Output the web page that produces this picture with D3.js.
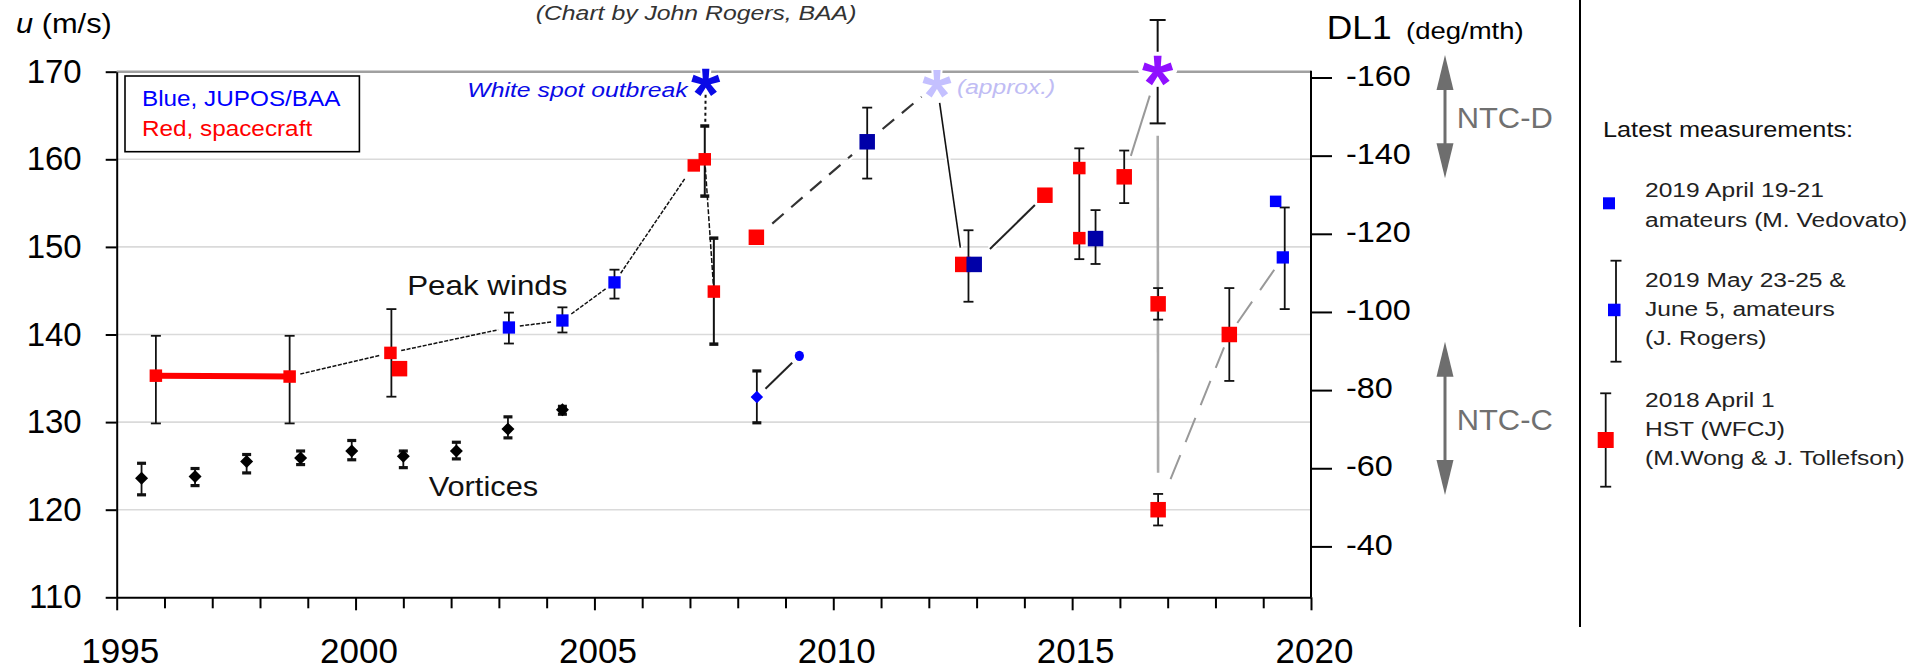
<!DOCTYPE html>
<html><head><meta charset="utf-8">
<script src="https://cdn.jsdelivr.net/npm/d3@7"></script>
<style>
html,body{margin:0;padding:0;background:#fff;}
svg{display:block;font-family:"Liberation Sans",Arial,Helvetica,sans-serif;}
</style></head><body>
<svg id="chart" width="1915" height="670"></svg>
<script>
// ---------------- DATA ----------------
const yearTicks = [1995, 2000, 2005, 2010, 2015, 2020];
const minorYears = [1996,1997,1998,1999,2001,2002,2003,2004,2006,2007,2008,2009,2011,2012,2013,2014,2016,2017,2018,2019];
const uTicks = [110, 120, 130, 140, 150, 160, 170];
const uGrid = [120, 130, 140, 150, 160];
const dlTicks = [-160, -140, -120, -100, -80, -60, -40];

// Vortices (black diamonds)
const vortexYear = [1995.52, 1996.64, 1997.72, 1998.85, 1999.92, 2001.0, 2002.11, 2003.19, 2004.33];
const vortexU    = [123.6, 123.8, 125.5, 125.9, 126.7, 126.1, 126.7, 129.2, 131.4];
const vortexLow  = [121.7, 122.75, 124.2, 125.15, 125.7, 124.8, 125.8, 128.2, 130.9];
const vortexHigh = [125.3, 124.7, 126.3, 126.7, 127.9, 126.7, 127.7, 130.6, 131.8];

// Later vortex-type points (blue)
const blueVortexYear = [2008.40];
const blueVortexU = [132.86];
const blueVortexLow = [129.92];
const blueVortexHigh = [135.84];
const blueDotYear = [2009.29];
const blueDotU = [137.56];

// Peak winds: spacecraft (red)
const redSmallYear = [1995.82, 1998.62, 2000.73, 2007.08, 2007.31, 2007.50, 2015.15, 2015.15];
const redSmallU    = [135.3, 135.2, 137.9, 159.3, 160.0, 144.9, 159.0, 151.0];
const redLargeYear = [2000.92, 2008.39, 2012.71, 2014.43, 2016.09, 2016.80, 2016.80, 2018.29];
const redLargeU    = [136.1, 151.1, 148.0, 155.9, 158.0, 143.5, 120.0, 140.0];
// Peak winds: JUPOS/BAA (blue)
const blueYear = [2003.21, 2004.33, 2005.42, 2019.41];
const blueU    = [140.8, 141.6, 145.95, 148.8];
const blueLatestYear = [2019.26];
const blueLatestU = [155.2];
const navyYear = [2010.71, 2012.95, 2015.49];
const navyU    = [162.0, 148.0, 150.95];

// Error bars (thin caps)
const errYear = [1995.82, 1998.62, 2000.75, 2003.21, 2004.33, 2005.42, 2010.71, 2012.83, 2015.15, 2015.49, 2016.09, 2016.80, 2016.80, 2018.29, 2019.45];
const errLow  = [129.85, 129.85, 132.9, 138.97, 140.23, 144.1, 157.8, 143.74, 148.6, 148.05, 155.0, 141.7, 118.2, 134.7, 142.9];
const errHigh = [139.85, 139.85, 142.9, 142.5, 143.1, 147.4, 165.9, 151.9, 161.25, 154.2, 161.0, 145.3, 121.8, 145.3, 154.5];
// Error bars (thick caps)
const errThickYear = [2007.31, 2007.50];
const errThickLow  = [155.8, 138.9];
const errThickHigh = [163.8, 151.0];

// White-spot outbreaks (stars)
const starYear = [2007.33, 2012.17, 2016.79];
const starU    = [168.75, 168.6, 170.1];
const starErrLow = [164.1];
const starErrHigh = [175.9];

// Connecting lines
const craftBarYear = [1995.82, 1998.62];
const craftBarU = [135.3, 135.2];
const trendYear = [1998.62, 2000.73, 2003.21, 2004.33, 2005.42, 2007.08];
const trendU    = [135.2, 137.9, 140.8, 141.6, 145.95, 159.3];
const drop2007Year = [2007.31, 2007.50];
const drop2007U = [160.0, 144.9];
const outbreakLinkYear = [2007.33, 2007.32];
const outbreakLinkU = [168.75, 163.8];
const rise2008Year = [2008.39, 2010.71, 2012.17];
const rise2008U = [151.1, 162.0, 168.6];
const fall2012Year = [2012.17, 2012.71];
const fall2012U = [168.6, 148.0];
const rise2013Year = [2012.95, 2014.43];
const rise2013U = [148.0, 155.9];
const rise2016Year = [2016.09, 2016.79];
const rise2016U = [158.0, 170.1];
const split2016Year = [2016.79, 2016.80];
const split2016U = [170.1, 120.0];
const rise2017Year = [2016.80, 2018.29, 2019.41];
const rise2017U = [120.0, 140.0, 148.8];
const blueLinkYear = [2008.40, 2009.29];
const blueLinkU = [132.86, 137.56];

// ---------------- SCALES ----------------
const x = d3.scaleLinear().domain([1995, 2020]).range([116.7, 1311]);
const y = d3.scaleLinear().domain([110, 170]).range([597.3, 71.7]);
const yR = d3.scaleLinear().domain([-160, -40]).range([77.5, 546.4]);
const svg = d3.select('#chart');
const zip = (a, b) => a.map((v, i) => [v, b[i]]);

const RED = '#ff0000', BLUE = '#0000ff', NAVY = '#0000a8', GRAY = '#999999';

function txt(g, px, py, s, o) {
  const t = g.append('text')
    .attr('transform', `translate(${px},${py}) scale(${o.sx || 1},1)`)
    .attr('font-size', o.size)
    .attr('fill', o.fill || '#111')
    .attr('text-anchor', o.anchor || 'start')
    .text(s);
  if (o.italic) t.attr('font-style', 'italic');
  return t;
}

// ---------------- GRID ----------------
svg.append('g').selectAll('line').data(uGrid).join('line')
  .attr('x1', x(1995)).attr('x2', x(2020))
  .attr('y1', d => y(d)).attr('y2', d => y(d))
  .attr('stroke', '#dadada').attr('stroke-width', 1.6);
svg.append('line').attr('x1', x(1995)).attr('x2', x(2020))
  .attr('y1', y(170)).attr('y2', y(170))
  .attr('stroke', '#a0a0a0').attr('stroke-width', 2.6);

// ---------------- AXES ----------------
const gL = svg.append('g').attr('transform', `translate(${x(1995)},0)`)
  .call(d3.axisLeft(y).tickValues(uTicks).tickSize(11).tickSizeOuter(0).tickPadding(24).tickFormat(d => String(d)));
gL.selectAll('path,line').attr('stroke', '#000').attr('stroke-width', 2);
gL.selectAll('text').attr('font-size', 33).attr('fill', '#000').attr('font-family', null);

const gB = svg.append('g').attr('transform', `translate(0,${y(110)})`)
  .call(d3.axisBottom(x).tickValues(yearTicks).tickSize(13).tickSizeOuter(0).tickPadding(28).tickFormat(d => String(d)));
gB.selectAll('path,line').attr('stroke', '#000').attr('stroke-width', 2);
gB.selectAll('text').attr('font-size', 35).attr('fill', '#000').attr('font-family', null).attr('dx', 3);
const gBm = svg.append('g').attr('transform', `translate(0,${y(110)})`)
  .call(d3.axisBottom(x).tickValues(minorYears).tickSize(11).tickFormat(''));
gBm.select('.domain').remove();
gBm.selectAll('line').attr('stroke', '#000').attr('stroke-width', 2);

svg.append('line').attr('x1', x(2020)).attr('x2', x(2020))
  .attr('y1', y(170) - 1).attr('y2', y(110))
  .attr('stroke', '#000').attr('stroke-width', 2);
const gR = svg.append('g').attr('transform', `translate(${x(2020)},0)`)
  .call(d3.axisRight(yR).tickValues(dlTicks).tickSize(21).tickPadding(14).tickFormat(d => String(d)));
gR.select('.domain').remove();
gR.selectAll('line').attr('stroke', '#000').attr('stroke-width', 2);
gR.selectAll('text').attr('font-size', 30).attr('fill', '#000').attr('font-family', null)
  .attr('transform', function () { return `translate(${d3.select(this).attr('x')},-2) scale(1.08,1)`; })
  .attr('x', 0);

// ---------------- LINES ----------------
const plot = svg.append('g');
function link(years, us, st) {
  const pts = zip(years, us).map(([a, b]) => [x(a), y(b)]);
  for (let i = 0; i < pts.length - 1; i++) {
    const [x1, y1] = pts[i], [x2, y2] = pts[i + 1];
    const L = Math.hypot(x2 - x1, y2 - y1), ux = (x2 - x1) / L, uy = (y2 - y1) / L;
    const ga = i === 0 ? st.gapA : st.gapMid, gb = i === pts.length - 2 ? st.gapB : st.gapMid;
    const seg = [x1 + ux * ga, y1 + uy * ga, x2 - ux * gb, y2 - uy * gb];
    const draw = (stroke, w) => plot.append('line')
      .attr('x1', seg[0]).attr('y1', seg[1]).attr('x2', seg[2]).attr('y2', seg[3])
      .attr('stroke', stroke).attr('stroke-width', w)
      .attr('stroke-dasharray', st.dash || null);
    if (st.halo) draw('#fff', st.width + st.halo);
    draw(st.stroke, st.width);
  }
}
link(craftBarYear, craftBarU, {stroke: RED, width: 6, gapA: 0, gapB: 0, gapMid: 0});
link(trendYear, trendU, {stroke: '#111', width: 1.5, dash: '4,1.5', gapA: 11, gapB: 15, gapMid: 11});
link(drop2007Year, drop2007U, {stroke: '#111', width: 1.5, dash: '5,2', gapA: 8, gapB: 8, gapMid: 8});
link(outbreakLinkYear, outbreakLinkU, {stroke: '#111', width: 2, dash: '3,3', gapA: 12, gapB: 2, gapMid: 0});
link(rise2008Year, rise2008U, {stroke: '#333', width: 2.2, dash: '15,10', gapA: 21, gapB: 20, gapMid: 20, halo: 4});
link(fall2012Year, fall2012U, {stroke: '#111', width: 1.6, gapA: 19, gapB: 17, gapMid: 0, halo: 4});
link(rise2013Year, rise2013U, {stroke: '#222', width: 2, gapA: 22, gapB: 14, gapMid: 0, halo: 4});
link(rise2016Year, rise2016U, {stroke: GRAY, width: 2, gapA: 22, gapB: 26, gapMid: 0, halo: 5});
link(split2016Year, split2016U, {stroke: '#aaaaaa', width: 2.6, gapA: 65, gapB: 37, gapMid: 0});
link(rise2017Year, rise2017U, {stroke: GRAY, width: 2, dash: '26,14', gapA: 33, gapB: 15, gapMid: 14});
link(blueLinkYear, blueLinkU, {stroke: '#222', width: 2, gapA: 12, gapB: 10, gapMid: 0});

// ---------------- ERROR BARS ----------------
function errorBars(years, lows, highs, cap, capW, w) {
  const g = plot.append('g').attr('stroke', '#111');
  const d = years.map((v, i) => ({xv: x(v), lo: y(lows[i]), hi: y(highs[i])}));
  g.selectAll('.v').data(d).join('line').attr('class', 'v')
    .attr('x1', e => e.xv).attr('x2', e => e.xv).attr('y1', e => e.lo).attr('y2', e => e.hi)
    .attr('stroke-width', w);
  ['lo', 'hi'].forEach(k => g.selectAll('.c' + k).data(d).join('line').attr('class', 'c' + k)
    .attr('x1', e => e.xv - cap / 2).attr('x2', e => e.xv + cap / 2)
    .attr('y1', e => e[k]).attr('y2', e => e[k]).attr('stroke-width', capW));
}
errorBars(errYear, errLow, errHigh, 10, 1.8, 1.8);
errorBars(errThickYear, errThickLow, errThickHigh, 9, 3.5, 2);
errorBars(vortexYear, vortexLow, vortexHigh, 9, 3.2, 1.8);
errorBars(blueVortexYear, blueVortexLow, blueVortexHigh, 9, 3.2, 1.8);
// star error bar with a gap around the star
(function () {
  const g = plot.append('g').attr('stroke', '#111').attr('stroke-width', 2);
  const gap = 16;
  starErrLow.forEach((lo, i) => {
    const xv = x(starYear[2]), yc = y(starU[2]);
    const yl = y(lo), yh = y(starErrHigh[i]);
    g.append('line').attr('x1', xv).attr('x2', xv).attr('y1', yh).attr('y2', yc - gap);
    g.append('line').attr('x1', xv).attr('x2', xv).attr('y1', yc + gap).attr('y2', yl);
    [yl, yh].forEach(v => g.append('line').attr('x1', xv - 8).attr('x2', xv + 8).attr('y1', v).attr('y2', v));
  });
})();

// ---------------- MARKERS ----------------
function squares(years, us, size, color) {
  plot.append('g').selectAll('path').data(zip(years, us)).join('path')
    .attr('d', d3.symbol(d3.symbolSquare, size * size))
    .attr('transform', d => `translate(${x(d[0])},${y(d[1])})`)
    .attr('fill', color);
}
function diamonds(years, us, diag, color) {
  const side = diag / Math.SQRT2;
  plot.append('g').selectAll('path').data(zip(years, us)).join('path')
    .attr('d', d3.symbol(d3.symbolSquare, side * side))
    .attr('transform', d => `translate(${x(d[0])},${y(d[1])}) rotate(45)`)
    .attr('fill', color);
}
diamonds(vortexYear, vortexU, 13, '#000');
diamonds(blueVortexYear, blueVortexU, 12.5, BLUE);
plot.append('g').selectAll('ellipse').data(zip(blueDotYear, blueDotU)).join('ellipse')
  .attr('cx', d => x(d[0])).attr('cy', d => y(d[1])).attr('rx', 4.6).attr('ry', 5.2)
  .attr('fill', BLUE);

squares(redSmallYear, redSmallU, 12.5, RED);
squares(redLargeYear, redLargeU, 15.5, RED);
squares(blueYear, blueU, 12.3, BLUE);
squares(blueLatestYear, blueLatestU, 11.5, BLUE);
squares(navyYear, navyU, 15.5, NAVY);

// ---------------- STARS ----------------
const asterisk = {
  draw(ctx, size) {
    const r = Math.sqrt(size), w0 = r * 0.38, w1 = r * 0.52;
    for (let k = 0; k < 5; k++) {
      const a = -Math.PI / 2 + k * 2 * Math.PI / 5;
      const ux = Math.cos(a), uy = Math.sin(a), px = -uy, py = ux;
      ctx.moveTo(px * w0 / 2, py * w0 / 2);
      ctx.lineTo(ux * r + px * w1 / 2, uy * r + py * w1 / 2);
      ctx.lineTo(ux * r - px * w1 / 2, uy * r - py * w1 / 2);
      ctx.lineTo(-px * w0 / 2, -py * w0 / 2);
      ctx.closePath();
    }
  }
};
const starColors = ['#0a0ae6', '#c4c0ff', '#9010ff'];
const starR = [14, 14, 15];
plot.append('g').selectAll('path').data(zip(starYear, starU)).join('path')
  .attr('d', (d, i) => d3.symbol(asterisk, starR[i] * starR[i])())
  .attr('transform', d => `translate(${x(d[0])},${y(d[1])})`)
  .attr('fill', (d, i) => starColors[i])
  .attr('stroke', '#fff').attr('stroke-width', (d, i) => i === 2 ? 8 : 4)
  .attr('stroke-linejoin', 'round')
  .attr('paint-order', 'stroke');

// ---------------- ANNOTATIONS ----------------
const ann = svg.append('g');
txt(ann, x(2001.08), y(144.5), 'Peak winds', {size: 28, sx: 1.12});
txt(ann, x(2001.53), y(121.56), 'Vortices', {size: 28, sx: 1.1});
txt(ann, x(2006.95), y(167.15), 'White spot outbreak', {size: 21, sx: 1.18, italic: true, fill: '#0a0ae6', anchor: 'end'});
txt(ann, x(2012.59), y(167.5), '(approx.)', {size: 21, sx: 1.17, italic: true, fill: '#c0bcf4'});
txt(ann, 535.7, 20, '(Chart by John Rogers, BAA)', {size: 21, sx: 1.18, italic: true, fill: '#333'});

// y titles
txt(ann, 16, 33, 'u', {size: 28, sx: 1.1, italic: true, fill: '#000'});
txt(ann, 41.7, 33, '(m/s)', {size: 28, sx: 1.1, fill: '#000'});
txt(ann, 1326.7, 39.3, 'DL1', {size: 34, sx: 1.04, fill: '#000'});
txt(ann, 1406, 39.3, '(deg/mth)', {size: 23.5, sx: 1.17, fill: '#000'});

// legend box
ann.append('rect').attr('x', 125).attr('y', 76).attr('width', 234.4).attr('height', 75.7)
  .attr('fill', '#fff').attr('stroke', '#000').attr('stroke-width', 1.6);
txt(ann, 142, 106, 'Blue, JUPOS/BAA', {size: 21.5, sx: 1.13, fill: BLUE});
txt(ann, 142, 136, 'Red, spacecraft', {size: 21.5, sx: 1.13, fill: RED});

// NTC arrows
function dblArrow(xv, y1, y2) {
  const g = ann.append('g').attr('fill', '#6e6e6e');
  const hh = 35, hw = 8.5;
  g.append('line').attr('x1', xv).attr('x2', xv).attr('y1', y1 + hh - 2).attr('y2', y2 - hh + 2)
    .attr('stroke', '#6e6e6e').attr('stroke-width', 3);
  g.append('path').attr('d', `M${xv},${y1}L${xv + hw},${y1 + hh}L${xv - hw},${y1 + hh}Z`);
  g.append('path').attr('d', `M${xv},${y2}L${xv + hw},${y2 - hh}L${xv - hw},${y2 - hh}Z`);
}
dblArrow(1445, 55, 178.3);
dblArrow(1445, 341.7, 495);
txt(ann, 1456.7, 128.3, 'NTC-D', {size: 30, sx: 1.03, fill: '#707070'});
txt(ann, 1456.7, 430, 'NTC-C', {size: 30, sx: 1.03, fill: '#707070'});

// separator
ann.append('line').attr('x1', 1580).attr('x2', 1580).attr('y1', 0).attr('y2', 627)
  .attr('stroke', '#000').attr('stroke-width', 2);

// right legend
const lg = svg.append('g');
const LS = {size: 21, sx: 1.17, fill: '#222'};
txt(lg, 1603, 136.7, 'Latest measurements:', {size: 22, sx: 1.15, fill: '#111'});
lg.append('rect').attr('x', 1603).attr('y', 197.3).attr('width', 12).attr('height', 12).attr('fill', BLUE);
txt(lg, 1645, 196.7, '2019 April 19-21', LS);
txt(lg, 1645, 226.7, 'amateurs (M. Vedovato)', LS);

function legErr(xv, y1, y2, cap) {
  lg.append('line').attr('x1', xv).attr('x2', xv).attr('y1', y1).attr('y2', y2).attr('stroke', '#111').attr('stroke-width', 1.8);
  [y1, y2].forEach(v => lg.append('line').attr('x1', xv - cap / 2).attr('x2', xv + cap / 2).attr('y1', v).attr('y2', v).attr('stroke', '#111').attr('stroke-width', 1.8));
}
legErr(1616, 260.7, 361.7, 11);
lg.append('rect').attr('x', 1608).attr('y', 303.7).attr('width', 12.5).attr('height', 12.5).attr('fill', BLUE);
txt(lg, 1645, 287.3, '2019 May 23-25 &', LS);
txt(lg, 1645, 316, 'June 5, amateurs', LS);
txt(lg, 1645, 345, '(J. Rogers)', LS);

legErr(1605.7, 393.3, 486.7, 11);
lg.append('rect').attr('x', 1597.7).attr('y', 432).attr('width', 16).attr('height', 16).attr('fill', RED);
txt(lg, 1645, 407.3, '2018 April 1', LS);
txt(lg, 1645, 436, 'HST (WFCJ)', LS);
txt(lg, 1645, 465, '(M.Wong & J. Tollefson)', LS);
</script></body></html>
